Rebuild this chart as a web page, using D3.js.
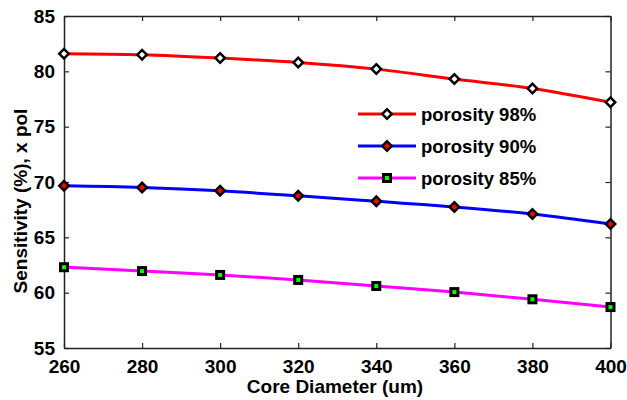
<!DOCTYPE html>
<html lang="en">
<head>
<meta charset="UTF-8">
<title>Sensitivity vs core diameter</title>
<style>
  body { margin: 0; background: #fff; }
  text { font-family: "Liberation Sans", Arial, sans-serif; font-weight: bold; fill: #000; }
</style>
</head>
<body>
<div id="chart"></div>
<script src="https://d3js.org/d3.v7.min.js"></script>
<script>
const coreDiameter = [260, 280, 300, 320, 340, 360, 380, 400]
const porosity98 = [81.6, 81.5, 81.2, 80.8, 80.2, 79.3, 78.45, 77.2]
const porosity90 = [69.65, 69.5, 69.2, 68.75, 68.25, 67.75, 67.1, 66.2]
const porosity85 = [62.3, 61.95, 61.6, 61.15, 60.6, 60.05, 59.4, 58.7]
const xTicks = [260, 280, 300, 320, 340, 360, 380, 400]
const yTicks = [55, 60, 65, 70, 75, 80, 85]
const seriesNames = ["porosity 98%", "porosity 90%", "porosity 85%"]

const [width, height] = [627, 400]
const margin = {top: 16, right: 16, bottom: 52, left: 64}

const svg = d3.select("#chart").append("svg")
    .attr("width", width)
    .attr("height", height)

const x = d3.scaleLinear().domain([260, 400]).range([margin.left, width - margin.right - 0.5])
const y = d3.scaleLinear().domain([55, 85]).range([height - margin.bottom, margin.top])

const series = [
    {name: seriesNames[0], values: porosity98, color: "#ff0000", marker: "diamond", fill: "#fff"},
    {name: seriesNames[1], values: porosity90, color: "#0000ff", marker: "diamond", fill: "#ff0000"},
    {name: seriesNames[2], values: porosity85, color: "#ff00ff", marker: "square", fill: "#00ff00"}
]

// frame + ticks (inward on all four sides)
const tickLen = 5
svg.append("g").attr("transform", `translate(0,${y(55)})`)
    .call(d3.axisBottom(x).tickValues(xTicks).tickSizeInner(-tickLen).tickSizeOuter(0).tickPadding(12))
svg.append("g").attr("transform", `translate(${x(260)},0)`)
    .call(d3.axisLeft(y).tickValues(yTicks).tickSizeInner(-tickLen).tickSizeOuter(0).tickPadding(9))
svg.append("g").attr("transform", `translate(0,${y(85)})`)
    .call(d3.axisTop(x).tickValues(xTicks).tickSizeInner(-tickLen).tickSizeOuter(0).tickFormat(""))
svg.append("g").attr("transform", `translate(${x(400)},0)`)
    .call(d3.axisRight(y).tickValues(yTicks).tickSizeInner(-tickLen).tickSizeOuter(0).tickFormat(""))

svg.selectAll(".domain").attr("stroke", "#222").attr("stroke-width", 1.5)
svg.selectAll(".tick line").attr("stroke", "#222").attr("stroke-width", 1.2)
svg.selectAll(".tick text").style("font-size", "19px").style("font-family", "'Liberation Sans', Arial, sans-serif").style("font-weight", "bold").attr("fill", "#000")

const line = d3.line()
    .x((d, i) => x(coreDiameter[i]))
    .y(d => y(d))
    .curve(d3.curveMonotoneX)

function drawMarker(g, type, fill, cx, cy) {
    if (type === "diamond") {
        const s = 6.5
        g.append("path")
            .attr("d", `M${cx},${cy - s}L${cx + s},${cy}L${cx},${cy + s}L${cx - s},${cy}Z`)
            .attr("fill", "#000")
        g.append("path")
            .attr("d", `M${cx},${cy - 3}L${cx + 3},${cy}L${cx},${cy + 3}L${cx - 3},${cy}Z`)
            .attr("fill", fill)
    } else {
        const s = 5
        g.append("rect").attr("x", cx - s).attr("y", cy - s).attr("width", 2 * s).attr("height", 2 * s).attr("fill", "#000")
        g.append("rect").attr("x", cx - 2).attr("y", cy - 2).attr("width", 4).attr("height", 4).attr("fill", fill)
    }
}

series.forEach(s => {
    svg.append("path")
        .datum(s.values)
        .attr("fill", "none")
        .attr("stroke", s.color)
        .attr("stroke-width", 3)
        .attr("d", line)
    const g = svg.append("g")
    s.values.forEach((v, i) => drawMarker(g, s.marker, s.fill, x(coreDiameter[i]), y(v)))
})

// legend
const legend = svg.append("g")
const legendY = [114, 146, 178]
series.forEach((s, i) => {
    legend.append("line")
        .attr("x1", 358).attr("x2", 416)
        .attr("y1", legendY[i]).attr("y2", legendY[i])
        .attr("stroke", s.color).attr("stroke-width", 3)
    drawMarker(legend, s.marker, s.fill, 387, legendY[i])
    legend.append("text")
        .attr("x", 421).attr("y", legendY[i] + 6.5)
        .style("font-size", "18.5px")
        .text(s.name)
})

// axis titles
svg.append("text")
    .attr("x", 335).attr("y", 393)
    .attr("text-anchor", "middle")
    .style("font-size", "19px")
    .text("Core Diameter (um)")

svg.append("text")
    .attr("transform", `translate(27,201) rotate(-90)`)
    .attr("text-anchor", "middle")
    .style("font-size", "19px")
    .text("Sensitivity (%), x pol")
</script>
</body>
</html>
